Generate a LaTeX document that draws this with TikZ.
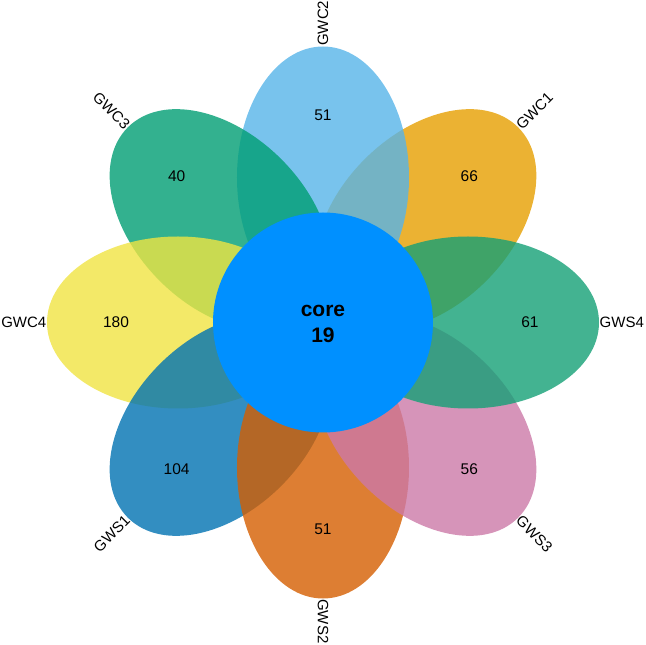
\documentclass[tikz,border=0pt]{standalone}
\usepackage{fontspec}
\setmainfont{Liberation Sans}
\definecolor{cA}{RGB}{230,159,0}
\definecolor{cB}{RGB}{86,180,233}
\definecolor{cC}{RGB}{0,158,115}
\definecolor{cD}{RGB}{240,228,66}
\definecolor{cE}{RGB}{0,114,178}
\definecolor{cF}{RGB}{213,94,0}
\definecolor{cG}{RGB}{204,121,167}
\definecolor{cH}{RGB}{20,160,118}
\definecolor{coreblue}{RGB}{0,144,255}
\begin{document}
\begin{tikzpicture}[x=1pt,y=1pt,
  petal/.style={fill opacity=0.8},
  lab/.style={font=\fontsize{15}{18}\selectfont, inner sep=1pt},
  num/.style={font=\fontsize{15.5}{18}\selectfont, inner sep=0pt},
  corefont/.style={font=\fontsize{21}{26}\selectfont\bfseries, inner sep=0pt}]
\useasboundingbox (-323,-322.5) rectangle (323,322.5);
% petals in drawing order
\foreach \ang/\col in {45/cA,90/cB,135/cC,180/cD,225/cE,270/cF,315/cG,360/cH}
  \fill[petal, fill=\col, rotate=\ang] (145,0) ellipse [x radius=131, y radius=86];
% core circle
\fill[coreblue] (0,0) circle (110);
\node[corefont, anchor=base] (coreT) at (0,6) {core};
\node[corefont, anchor=base] (coreN) at (0,-20) {19};
% numbers
\node[num] (n1) at (45:207) {66};
\node[num] (n2) at (90:207) {51};
\node[num] (n3) at (135:207) {40};
\node[num] (n4) at (180:207) {180};
\node[num] (n5) at (225:207) {104};
\node[num] (n6) at (270:207) {51};
\node[num] (n7) at (315:207) {56};
\node[num] (n8) at (0:207) {61};
% labels
\node[lab, rotate=45, anchor=west] (l1) at (45:275.5) {GWC1};
\node[lab, rotate=90, anchor=west] (l2) at (90:275.5) {GWC2};
\node[lab, rotate=-45, anchor=east] (l3) at (135:275.5) {GWC3};
\node[lab, anchor=east] (l4) at (180:275.5) {GWC4};
\node[lab, rotate=45, anchor=east] (l5) at (225:275.5) {GWS1};
\node[lab, rotate=-90, anchor=west] (l6) at (270:275.5) {GWS2};
\node[lab, rotate=-45, anchor=west] (l7) at (315:275.5) {GWS3};
\node[lab, anchor=west] (l8) at (0:275.5) {GWS4};
\end{tikzpicture}
\end{document}
